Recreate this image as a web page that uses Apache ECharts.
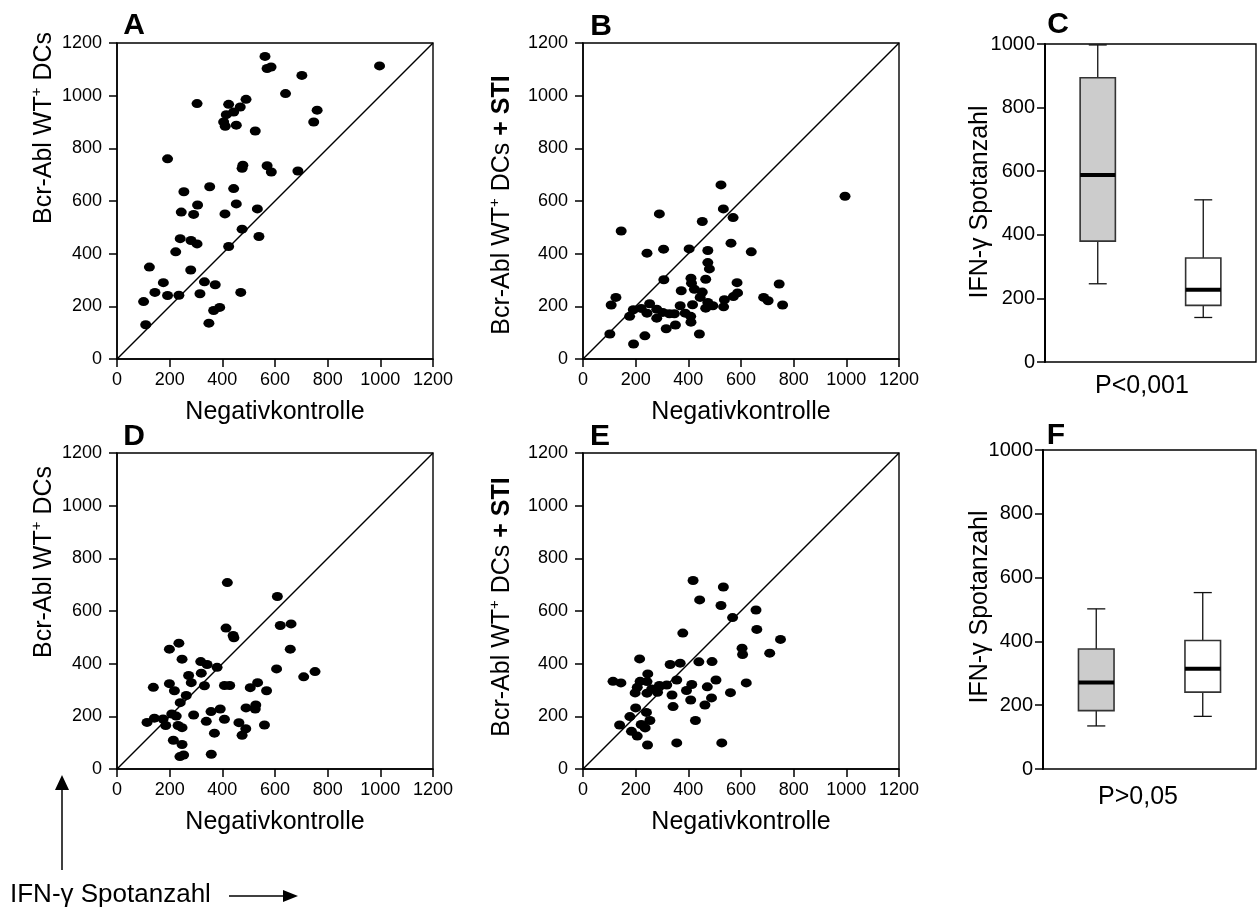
<!DOCTYPE html>
<html>
<head>
<meta charset="utf-8">
<script src="https://cdn.jsdelivr.net/npm/echarts@6/dist/echarts.min.js"></script>
<style>
  html, body { margin: 0; padding: 0; background: #ffffff; }
  #chart { width: 1258px; height: 908px; }
</style>
</head>
<body>
<div id="chart"></div>
<script>
const FONT = '"Liberation Sans", Arial, Helvetica, sans-serif';

// ELISPOT spot counts: [Negativkontrolle, stimulated]
// A: Bcr-Abl WT+ DCs
const panelA = [
  [562,1149],[570,1103],[585,1109],[702,1077],[997,1113],[640,1008],[304,970],[424,967],
  [490,986],[468,957],[443,938],[415,928],[405,900],[411,884],[453,888],[525,866],
  [760,945],[747,900],[192,760],[478,736],[475,724],[570,734],[586,710],[687,714],
  [352,654],[443,647],[254,635],[306,585],[453,589],[244,558],[291,549],[410,551],
  [533,570],[475,493],[539,465],[240,457],[281,450],[304,437],[223,407],[424,427],
  [123,349],[280,338],[176,290],[332,293],[144,253],[192,241],[235,242],[315,248],
  [373,282],[470,253],[101,218],[367,184],[390,196],[109,130],[349,136]
];
// B: Bcr-Abl WT+ DCs + STI
const panelB = [
  [524,661],[995,618],[290,551],[533,570],[570,537],[453,522],[145,486],[562,440],
  [306,417],[403,418],[474,412],[639,407],[243,402],[474,366],[480,342],[307,301],
  [410,307],[466,303],[412,288],[423,265],[373,259],[453,254],[445,234],[585,290],
  [587,251],[571,237],[745,285],[686,234],[703,221],[758,205],[537,225],[534,198],
  [493,202],[466,193],[474,215],[416,206],[369,202],[388,174],[409,162],[410,140],
  [351,129],[316,115],[442,95],[280,189],[280,155],[303,177],[328,172],[347,172],
  [253,210],[221,192],[243,174],[191,187],[177,162],[235,88],[192,57],[102,95],
  [125,234],[107,205]
];
// D: Bcr-Abl WT+ DCs
const panelD = [
  [419,708],[609,655],[620,545],[661,551],[658,455],[414,535],[441,507],[444,498],
  [235,478],[199,455],[247,417],[318,408],[342,397],[380,386],[320,364],[606,380],
  [709,350],[752,370],[272,355],[282,328],[199,324],[138,310],[332,316],[408,317],
  [428,317],[506,309],[534,328],[568,297],[218,297],[263,279],[240,252],[490,232],
  [527,243],[525,228],[392,228],[357,218],[291,205],[208,209],[225,201],[142,193],
  [114,177],[175,190],[185,165],[232,165],[247,157],[339,181],[408,189],[463,176],
  [489,153],[475,128],[560,167],[370,136],[214,109],[247,93],[239,47],[253,53],
  [358,56]
];
// E: Bcr-Abl WT+ DCs + STI
const panelE = [
  [418,716],[533,691],[443,642],[524,621],[568,575],[657,604],[660,530],[379,516],
  [750,492],[604,459],[606,435],[709,440],[215,418],[331,397],[369,402],[440,407],
  [490,408],[246,361],[114,333],[144,327],[217,333],[243,332],[356,338],[505,338],
  [620,327],[290,317],[318,319],[413,321],[472,312],[206,310],[261,304],[198,289],
  [243,288],[283,291],[338,281],[393,298],[560,290],[409,262],[488,270],[463,243],
  [342,237],[200,232],[241,215],[178,199],[254,184],[427,184],[139,167],[221,169],
  [236,156],[184,143],[206,125],[245,91],[356,99],[527,99]
];
// Reference line y = x
const identityLine = [[0, 0], [1200, 1200]];

// Box plots: [min, Q1, median, Q3, max]
const boxGroups = ['Bcr-Abl WT+ DCs', 'Bcr-Abl WT+ DCs + STI'];
const boxFills = ['#cccccc', '#ffffff'];
const boxC = [[246, 380, 588, 894, 997], [140, 178, 227, 327, 510]];
const boxF = [[135, 183, 271, 376, 502], [165, 241, 314, 403, 553]];

const scatterTicks = { min: 0, max: 1200, interval: 200 };
const boxTicks = { min: 0, max: 1000, interval: 200 };

const plainNumber = v => String(v);

const grids = [
  { left: 117, top: 43, width: 316, height: 316 },   // A
  { left: 583, top: 43, width: 316, height: 316 },   // B
  { left: 1045, top: 44, width: 211, height: 318 },  // C
  { left: 117, top: 453, width: 316, height: 316 },  // D
  { left: 583, top: 453, width: 316, height: 316 },  // E
  { left: 1043, top: 450, width: 213, height: 319 }  // F
].map(g => Object.assign({ show: true, borderColor: '#000', borderWidth: 1.4, backgroundColor: 'transparent' }, g));

function valueXAxis(gi) {
  return {
    gridIndex: gi, type: 'value', min: scatterTicks.min, max: scatterTicks.max, interval: scatterTicks.interval,
    axisLine: { show: true, onZero: false, lineStyle: { color: '#000', width: 1.5 } },
    axisTick: { show: true, length: 8, lineStyle: { color: '#000', width: 1.5 } },
    axisLabel: { color: '#000', fontSize: 18, fontFamily: FONT, margin: 12, formatter: plainNumber },
    splitLine: { show: false },
    name: 'Negativkontrolle', nameLocation: 'middle', nameGap: 41,
    nameTextStyle: { color: '#000', fontSize: 25, fontFamily: FONT }
  };
}
function valueYAxis(gi) {
  return {
    gridIndex: gi, type: 'value', min: scatterTicks.min, max: scatterTicks.max, interval: scatterTicks.interval,
    axisLine: { show: true, onZero: false, lineStyle: { color: '#000', width: 1.5 } },
    axisTick: { show: true, length: 8, lineStyle: { color: '#000', width: 1.5 } },
    axisLabel: { color: '#000', fontSize: 18, fontFamily: FONT, margin: 15, formatter: plainNumber },
    splitLine: { show: false }
  };
}
function catXAxis(gi) {
  return {
    gridIndex: gi, type: 'category', data: boxGroups, boundaryGap: true,
    axisLine: { show: false }, axisTick: { show: false }, axisLabel: { show: false }, splitLine: { show: false }
  };
}
function boxYAxis(gi) {
  return {
    gridIndex: gi, type: 'value', min: boxTicks.min, max: boxTicks.max, interval: boxTicks.interval,
    axisLine: { show: true, onZero: false, lineStyle: { color: '#000', width: 2 } },
    axisTick: { show: true, length: 8, lineStyle: { color: '#000', width: 1.5 } },
    axisLabel: { color: '#000', fontSize: 20, fontFamily: FONT, margin: 10, formatter: plainNumber },
    splitLine: { show: false }
  };
}

function scatterSeries(idx, data) {
  return {
    type: 'scatter', xAxisIndex: idx, yAxisIndex: idx, data: data,
    symbol: 'circle', symbolSize: [11, 9], itemStyle: { color: '#000', opacity: 1 }, silent: true, z: 3
  };
}
function diagonalSeries(idx) {
  return {
    type: 'line', xAxisIndex: idx, yAxisIndex: idx, data: identityLine,
    showSymbol: false, symbol: 'none', lineStyle: { color: '#000', width: 1.5 }, silent: true, z: 2
  };
}

// Box with short whisker caps and a heavy median bar
function renderBox(params, api) {
  const cat = api.value(0);
  const lo = api.value(1), q1 = api.value(2), med = api.value(3), q3 = api.value(4), hi = api.value(5);
  const fill = boxFills[api.value(6)];
  const band = api.size([1, 0])[0];
  const half = band * 0.167, cap = band * 0.085;
  const cx = api.coord([cat, med])[0];
  const yLo = api.coord([cat, lo])[1], yQ1 = api.coord([cat, q1])[1];
  const yMed = api.coord([cat, med])[1], yQ3 = api.coord([cat, q3])[1], yHi = api.coord([cat, hi])[1];
  const thin = { stroke: '#111', lineWidth: 1.3 };
  return {
    type: 'group',
    children: [
      { type: 'line', shape: { x1: cx, y1: yQ3, x2: cx, y2: yHi }, style: thin },
      { type: 'line', shape: { x1: cx - cap, y1: yHi, x2: cx + cap, y2: yHi }, style: thin },
      { type: 'line', shape: { x1: cx, y1: yQ1, x2: cx, y2: yLo }, style: thin },
      { type: 'line', shape: { x1: cx - cap, y1: yLo, x2: cx + cap, y2: yLo }, style: thin },
      { type: 'rect', shape: { x: cx - half, y: yQ3, width: half * 2, height: yQ1 - yQ3 },
        style: { fill: fill, stroke: '#333', lineWidth: 1.6 } },
      { type: 'line', shape: { x1: cx - half, y1: yMed, x2: cx + half, y2: yMed },
        style: { stroke: '#000', lineWidth: 4 } }
    ]
  };
}
function boxSeries(idx, stats) {
  return {
    type: 'custom', xAxisIndex: idx, yAxisIndex: idx, renderItem: renderBox, silent: true,
    encode: { x: 0, y: [1, 2, 3, 4, 5] },
    data: stats.map((s, i) => [i, s[0], s[1], s[2], s[3], s[4], i])
  };
}

function letter(t, x, y) {
  return { type: 'text', x: x, y: y, style: { text: t, font: 'bold 30px ' + FONT, fill: '#000', textAlign: 'center', textVerticalAlign: 'middle' } };
}
function plainText(t, x, y, size) {
  return { type: 'text', x: x, y: y, style: { text: t, font: size + 'px ' + FONT, fill: '#000', textAlign: 'center', textVerticalAlign: 'middle' } };
}
const richNames = {
  n: { fontSize: 25, fontFamily: FONT, color: '#000', lineHeight: 30, verticalAlign: 'middle' },
  s: { fontSize: 15, fontFamily: FONT, color: '#000', lineHeight: 30, verticalAlign: 'top' },
  b: { fontSize: 25, fontFamily: FONT, fontWeight: 'bold', color: '#000', lineHeight: 30, verticalAlign: 'middle' }
};
function yName(withSti, x, y) {
  const t = '{n|Bcr-Abl WT}{s|+}{n| DCs}' + (withSti ? '{b| + STI}' : '');
  return { type: 'text', x: x, y: y, rotation: Math.PI / 2,
    style: { text: t, rich: richNames, textAlign: 'center', textVerticalAlign: 'middle', fill: '#000' } };
}

const chart = echarts.init(document.getElementById('chart'), null, { renderer: 'canvas' });
chart.setOption({
  animation: false,
  backgroundColor: '#ffffff',
  textStyle: { fontFamily: FONT },
  grid: grids,
  xAxis: [valueXAxis(0), valueXAxis(1), catXAxis(2), valueXAxis(3), valueXAxis(4), catXAxis(5)],
  yAxis: [valueYAxis(0), valueYAxis(1), boxYAxis(2), valueYAxis(3), valueYAxis(4), boxYAxis(5)],
  series: [
    diagonalSeries(0), scatterSeries(0, panelA),
    diagonalSeries(1), scatterSeries(1, panelB),
    boxSeries(2, boxC),
    diagonalSeries(3), scatterSeries(3, panelD),
    diagonalSeries(4), scatterSeries(4, panelE),
    boxSeries(5, boxF)
  ],
  graphic: [
    letter('A', 134, 26), letter('B', 601, 27), letter('C', 1058, 25),
    letter('D', 134, 437), letter('E', 600, 437), letter('F', 1056, 436),
    yName(false, 44, 128), yName(true, 502, 205),
    yName(false, 44, 562), yName(true, 502, 607),
    { type: 'text', x: 980, y: 202, rotation: Math.PI / 2,
      style: { text: 'IFN-γ Spotanzahl', font: '25px ' + FONT, fill: '#000', textAlign: 'center', textVerticalAlign: 'middle' } },
    { type: 'text', x: 980, y: 607, rotation: Math.PI / 2,
      style: { text: 'IFN-γ Spotanzahl', font: '25px ' + FONT, fill: '#000', textAlign: 'center', textVerticalAlign: 'middle' } },
    plainText('P<0,001', 1142, 386, 25),
    plainText('P>0,05', 1138, 797, 25),
    // axis orientation key
    { type: 'line', shape: { x1: 62, y1: 870, x2: 62, y2: 788 }, style: { stroke: '#000', lineWidth: 1.5 } },
    { type: 'polygon', shape: { points: [[62, 775], [55, 790], [69, 790]] }, style: { fill: '#000' } },
    { type: 'text', x: 10, y: 895, style: { text: 'IFN-γ Spotanzahl', font: '26px ' + FONT, fill: '#000', textAlign: 'left', textVerticalAlign: 'middle' } },
    { type: 'line', shape: { x1: 229, y1: 896, x2: 284, y2: 896 }, style: { stroke: '#000', lineWidth: 1.5 } },
    { type: 'polygon', shape: { points: [[298, 896], [283, 890], [283, 902]] }, style: { fill: '#000' } }
  ]
});
</script>
</body>
</html>
